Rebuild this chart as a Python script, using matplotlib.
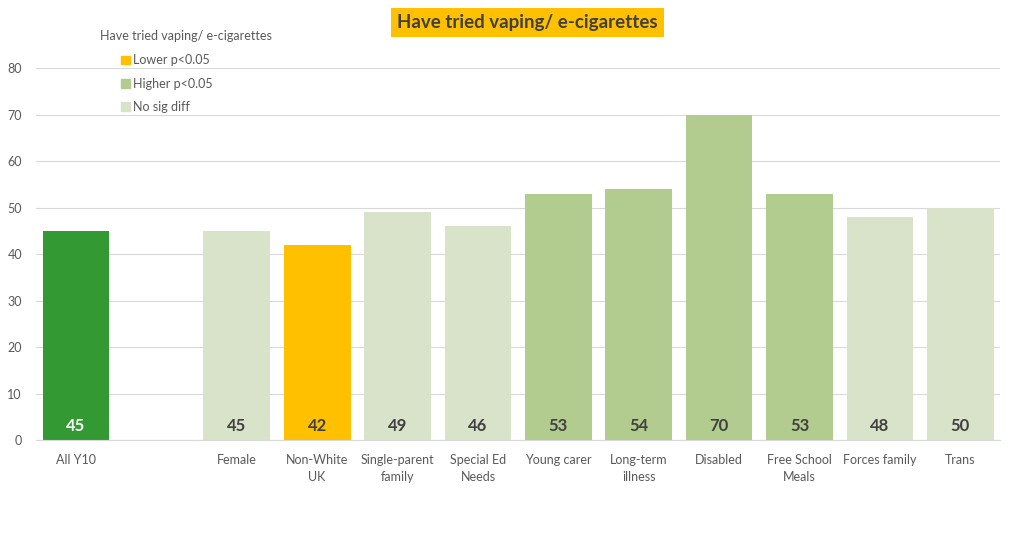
import matplotlib
matplotlib.use("Agg")
import matplotlib.pyplot as plt
from matplotlib.patches import Patch

plt.rcParams["font.family"] = ["Lato", "DejaVu Sans"]

categories = ["All Y10", "", "Female", "Non-White\nUK", "Single-parent\nfamily",
              "Special Ed\nNeeds", "Young carer", "Long-term\nillness", "Disabled",
              "Free School\nMeals", "Forces family", "Trans"]
values = [45, None, 45, 42, 49, 46, 53, 54, 70, 53, 48, 50]
groups = ["all", None, "nodiff", "lower", "nodiff", "nodiff", "higher", "higher",
          "higher", "higher", "nodiff", "nodiff"]

colors = {"all": "#339933", "lower": "#FFC000", "higher": "#B2CB8E", "nodiff": "#D9E3C9"}
text_gray = "#595959"

fig = plt.figure(figsize=(10.24, 5.4), dpi=100)
ax = fig.add_axes([0.035, 0.185, 0.942, 0.689])

for i, (v, g) in enumerate(zip(values, groups)):
    if v is None:
        continue
    ax.bar(i, v, width=0.83, color=colors[g], zorder=2)
    lab_color = "white" if g == "all" else "#404040"
    ax.text(i, 1.4, str(v), ha="center", va="bottom", fontsize=12,
            fontweight="bold", color=lab_color, zorder=3)

ax.set_xlim(-0.5, len(categories) - 0.5)
ax.set_ylim(0, 80)
ax.set_yticks(range(0, 81, 10))
ax.set_xticks(range(len(categories)))
ax.set_xticklabels(categories, fontsize=9, color=text_gray, linespacing=1.5)
ax.tick_params(axis="both", length=0, labelsize=9, colors=text_gray)
ax.tick_params(axis="x", pad=10)
ax.tick_params(axis="y", pad=10)
ax.grid(axis="y", color="#D9D9D9", linewidth=0.8, zorder=0)
for s in ["top", "right", "left"]:
    ax.spines[s].set_visible(False)
ax.spines["bottom"].set_color("#D9D9D9")

# legend title sits further left than the entries, so draw it separately
fig.text(0.098, 0.933, "Have tried vaping/ e-cigarettes", ha="left", va="center",
         fontsize=9, color=text_gray)
handles = [Patch(color=colors["lower"], label="Lower p<0.05"),
           Patch(color=colors["higher"], label="Higher p<0.05"),
           Patch(color=colors["nodiff"], label="No sig diff")]
fig.legend(handles=handles, loc="upper left", bbox_to_anchor=(0.107, 0.92),
           frameon=False, fontsize=9, handlelength=0.7, handleheight=0.7,
           handletextpad=0.3, labelspacing=0.9, labelcolor=text_gray)

fig.text(0.515, 0.958, "Have tried vaping/ e-cigarettes", ha="center", va="center",
         fontsize=13.5, fontweight="bold", color="#404040",
         bbox=dict(facecolor="#FFC000", edgecolor="none", pad=4.5))

fig.savefig("out.png", dpi=100)
